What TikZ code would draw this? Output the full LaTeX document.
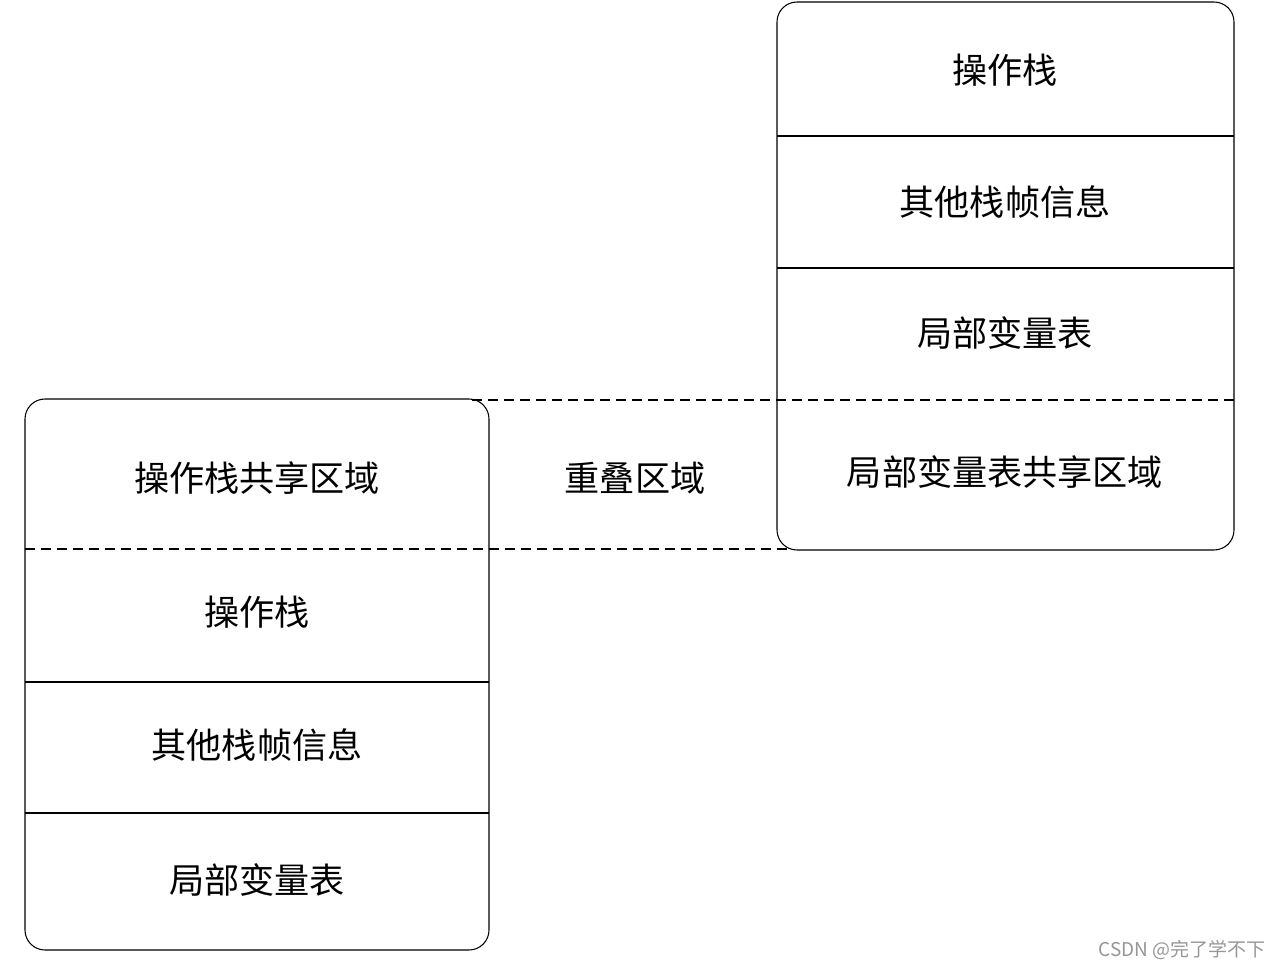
\documentclass[tikz,border=0pt]{standalone}
\usepackage{fontspec}
\newfontfamily\cjk{Noto Sans CJK SC}
\usetikzlibrary{positioning}
\definecolor{markgray}{RGB}{150,150,150}

\begin{document}
\begin{tikzpicture}[
    x=0.02cm, y=-0.02cm,
    frame/.style={draw, rounded corners=0.4cm, line width=0.6pt},
    sep/.style={line width=0.6pt},
    share/.style={line width=0.6pt, dash pattern=on 0.2cm off 0.12cm},
    lbl/.style={font=\cjk\fontsize{20}{24}\selectfont, inner sep=0pt}
]
\useasboundingbox (0,0) rectangle (1281,969);

% upper frame (current method)
\coordinate (upNW) at (777,2);
\coordinate (upSE) at (1234,550);
\draw[frame] (upNW) rectangle (upSE);
\draw[sep] (777,136) -- (1234,136);
\draw[sep] (777,268) -- (1234,268);
\node[lbl] (upOp) at (1005,70) {操作栈};
\node[lbl] (upInfo) at (1005,202) {其他栈帧信息};
\node[lbl] (upLocal) at (1005,333) {局部变量表};
\node[lbl] (upShare) at (1005,472) {局部变量表共享区域};

% lower frame (caller method)
\coordinate (loNW) at (25,399);
\coordinate (loSE) at (489,950);
\draw[frame] (loNW) rectangle (loSE);
\draw[sep] (25,682) -- (489,682);
\draw[sep] (25,813) -- (489,813);
\node[lbl] (loShare) at (257,478) {操作栈共享区域};
\node[lbl] (loOp) at (257,612) {操作栈};
\node[lbl] (loInfo) at (257,745) {其他栈帧信息};
\node[lbl] (loLocal) at (257,880) {局部变量表};

% overlap boundaries
\draw[share] (472,400) -- (1234,400);
\draw[share] (25,549) -- (790,549);
\node[lbl] (overlap) at (635,478) {重叠区域};

\node[font=\cjk\fontsize{10.8}{12}\selectfont, text=markgray, anchor=east, inner sep=0pt] (mark) at (1266,950) {CSDN @完了学不下};
\end{tikzpicture}
\end{document}
